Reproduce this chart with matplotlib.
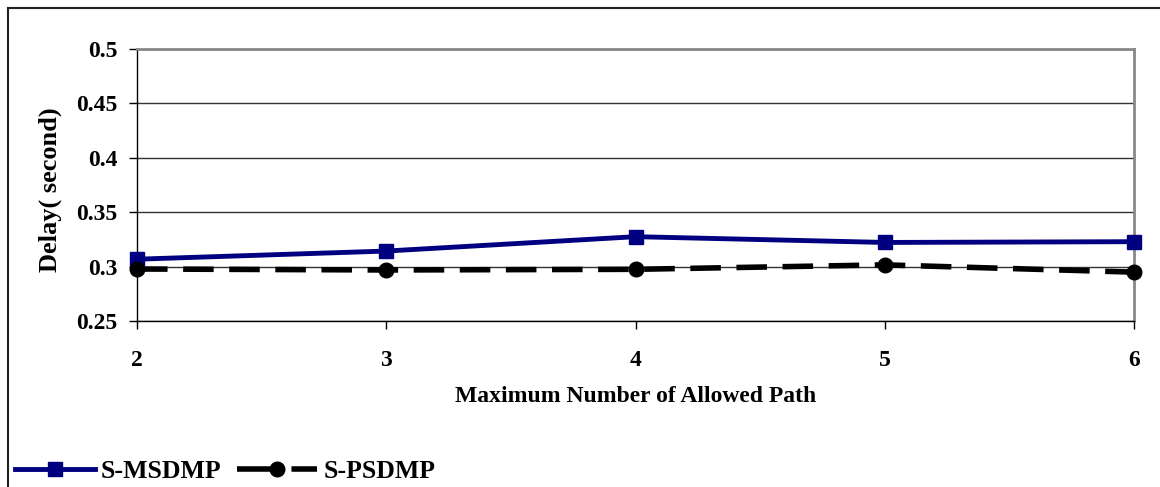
import matplotlib
matplotlib.use("Agg")
import matplotlib.pyplot as plt
from matplotlib.lines import Line2D

paths = [2, 3, 4, 5, 6]
s_msdmp = [0.3068, 0.3143, 0.3275, 0.3222, 0.3229]
s_psdmp = [0.2978, 0.2969, 0.2975, 0.3016, 0.2949]
yticks = [0.25, 0.3, 0.35, 0.4, 0.45, 0.5]
ytick_labels = ["0.25", "0.3", "0.35", "0.4", "0.45", "0.5"]

plt.rcParams['font.family'] = ['Liberation Serif', 'DejaVu Serif']
plt.rcParams['font.weight'] = 'bold'

W, H = 1160, 487
fig = plt.figure(figsize=(W/100, H/100), dpi=100)
ax = fig.add_axes([137/W, 1-321/H, (1134-137)/W, (321-49)/H])

ax.plot(paths, s_msdmp, color='#000080', lw=3.5, marker='s', ms=10.5,
        clip_on=False, zorder=4)
ax.plot(paths, s_psdmp, color='black', lw=4, dashes=(5.5, 2.8), marker='o', ms=10.5,
        clip_on=False, zorder=4)

ax.set_xlim(2, 6)
ax.set_ylim(0.25, 0.5)
ax.set_xticks(paths)
ax.set_xticklabels([str(p) for p in paths])
ax.set_yticks(yticks)
ax.set_yticklabels(ytick_labels)
ax.tick_params(axis='both', direction='out', length=6, width=1, labelsize=17)
ax.tick_params(axis='x', pad=15)
ax.tick_params(axis='y', pad=8)
for lab in ax.get_xticklabels() + ax.get_yticklabels():
    lab.set_fontweight('bold')
ax.grid(axis='y', color='#333333', lw=1)
ax.set_axisbelow(True)
for side in ['top', 'right']:
    ax.spines[side].set_color('#888888')
    ax.spines[side].set_linewidth(2)
for side in ['left', 'bottom']:
    ax.spines[side].set_color('black')
    ax.spines[side].set_linewidth(1)

fig.text(636/W, 1-397/H, 'Maximum Number of Allowed Path', fontsize=17,
         fontweight='bold', ha='center', va='center')
fig.text(50/W, 1-190/H, 'Delay( second)', fontsize=19, fontweight='bold',
         ha='center', va='center', rotation=90)

h1 = Line2D([], [], color='#000080', lw=3.5, marker='s', ms=10.5)
h2 = Line2D([], [], color='black', lw=4, dashes=(8, 1.8), marker='o', ms=10.5)
fig.legend([h1, h2], ['S-MSDMP', 'S-PSDMP'], loc='center left',
           bbox_to_anchor=(15/W, 1-471/H), ncol=2, frameon=False,
           handlelength=3.1, handletextpad=0.25, columnspacing=0.6,
           borderpad=0, borderaxespad=0, prop={'weight': 'bold', 'size': 18.5})

# outer chart border
fig.add_artist(Line2D([8/W, 1.0], [1-8/H, 1-8/H], color='#222222', lw=1.5, transform=fig.transFigure))
fig.add_artist(Line2D([8/W, 8/W], [0, 1-8/H], color='#222222', lw=1.5, transform=fig.transFigure))

fig.savefig('out.png', dpi=100)
